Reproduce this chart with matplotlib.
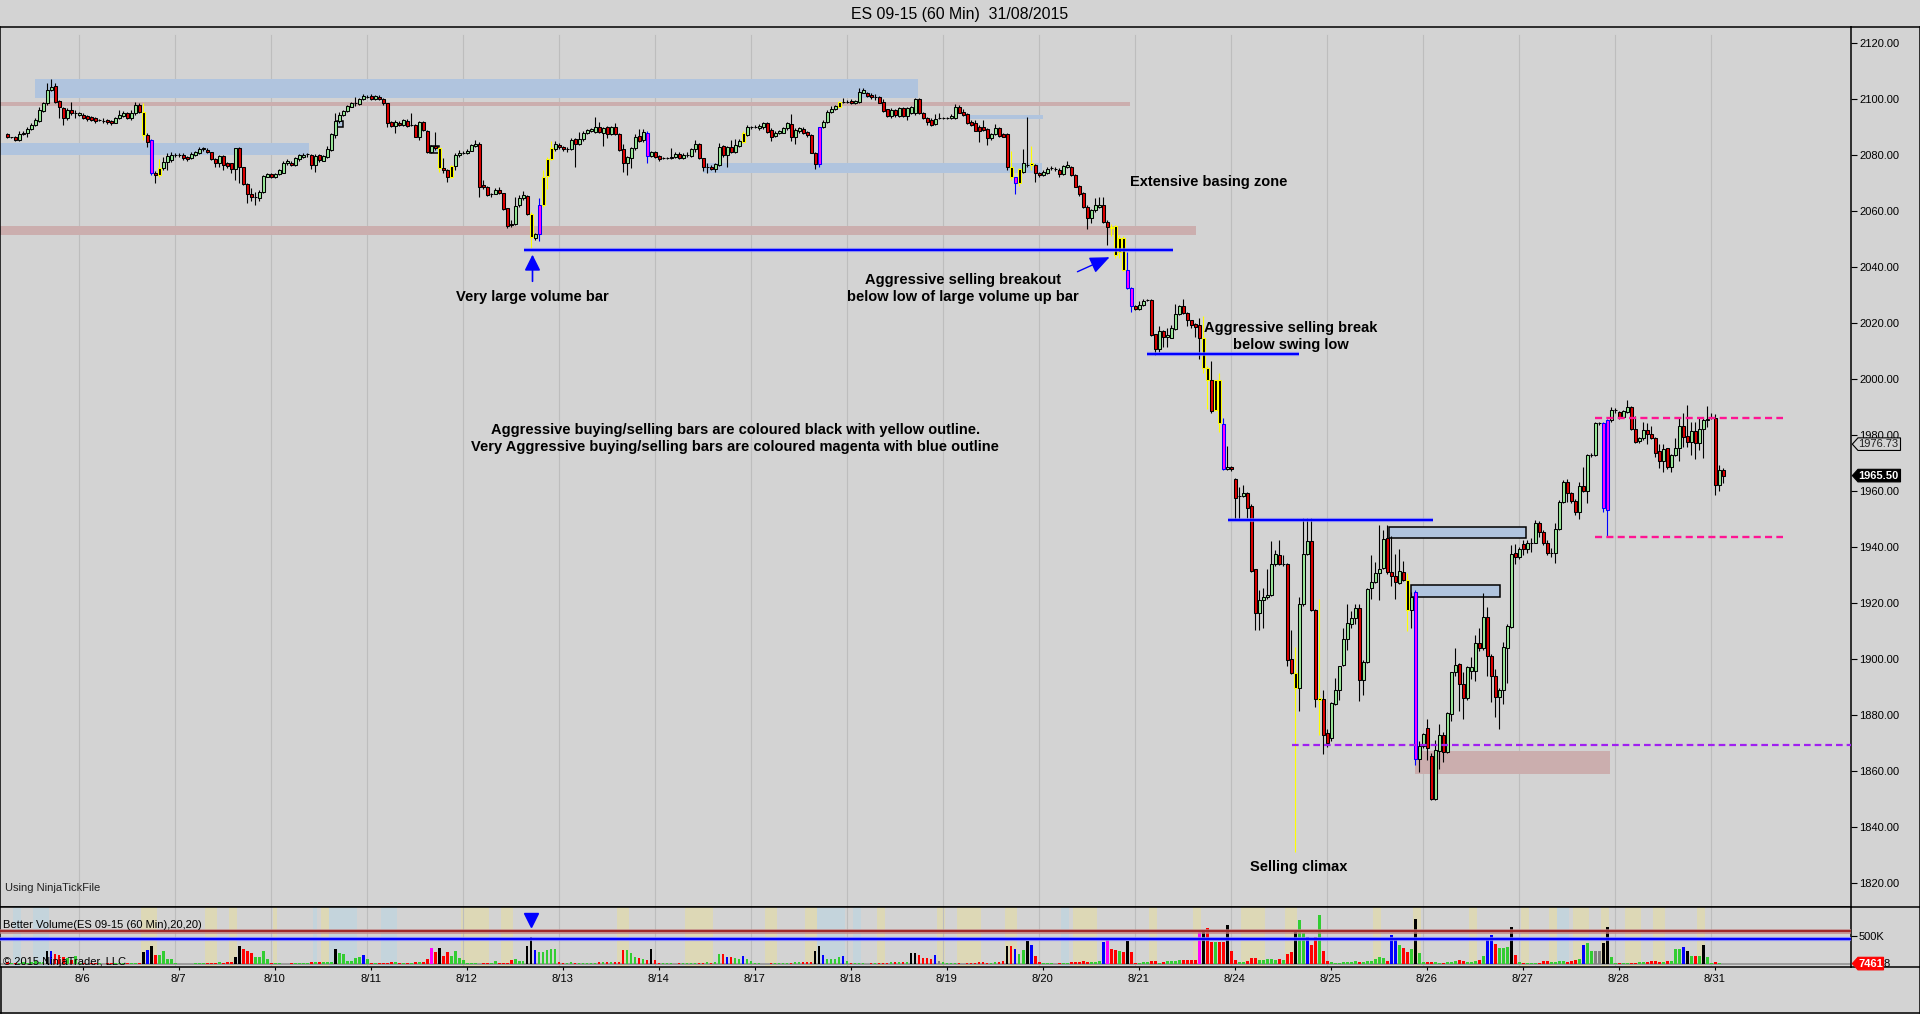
import matplotlib
matplotlib.use("Agg")
import matplotlib.pyplot as plt
import matplotlib.transforms as mtransforms
from matplotlib.lines import Line2D
from matplotlib.patches import Rectangle, Polygon

plt.rcParams['font.family'] = ['Liberation Sans', 'DejaVu Sans']

# ---------------- data (60 min bars, ES 09-15) ----------------
opens = [
    2087.4, 2086.3, 2086.5, 2085.4, 2087.4, 2088.0, 2089.2, 2090.7, 2092.3, 2095.8,
    2098.7, 2103.2, 2104.6, 2099.4, 2096.7, 2093.1, 2096.1, 2094.9, 2094.3, 2094.3,
    2093.9, 2093.4, 2093.1, 2092.5, 2092.3, 2092.5, 2092.3, 2091.6, 2093.1, 2094.0,
    2094.9, 2093.1, 2094.9, 2097.9, 2095.5, 2087.2, 2085.4, 2073.7, 2072.8, 2075.2,
    2077.6, 2078.2, 2080.0, 2080.0, 2080.0, 2079.2, 2079.0, 2079.9, 2080.6, 2082.0,
    2081.9, 2080.9, 2078.5, 2077.3, 2079.6, 2077.0, 2077.0, 2075.1, 2082.4, 2075.6,
    2069.7, 2066.1, 2065.1, 2064.5, 2066.9, 2072.3, 2073.1, 2072.0, 2073.2, 2073.7,
    2077.0, 2077.3, 2076.5, 2078.5, 2079.4, 2080.2, 2080.0, 2076.5, 2080.0, 2078.0,
    2079.4, 2081.8, 2087.2, 2092.1, 2094.2, 2095.8, 2097.3, 2098.5, 2098.2, 2099.9,
    2100.8, 2101.1, 2099.9, 2100.8, 2099.9, 2098.5, 2091.9, 2090.4, 2091.6, 2090.7,
    2092.3, 2090.7, 2090.7, 2086.6, 2091.9, 2088.7, 2081.2, 2083.2, 2082.4, 2075.2,
    2074.7, 2072.0, 2076.1, 2080.0, 2080.8, 2080.6, 2081.6, 2083.3, 2084.0, 2069.3,
    2068.7, 2065.9, 2066.1, 2067.5, 2066.3, 2060.9, 2055.4, 2055.4, 2062.2, 2064.6,
    2065.4, 2059.0, 2050.3, 2051.8, 2062.2, 2072.5, 2078.5, 2082.0, 2083.6, 2082.8,
    2082.0, 2082.0, 2085.6, 2084.0, 2085.6, 2088.0, 2088.6, 2088.2, 2090.1, 2088.0,
    2089.9, 2087.5, 2089.9, 2087.5, 2082.0, 2077.0, 2078.8, 2082.4, 2086.8, 2085.4,
    2088.0, 2079.7, 2081.2, 2079.7, 2078.8, 2078.8, 2078.8, 2079.2, 2080.4, 2078.8,
    2080.0, 2079.7, 2082.0, 2083.9, 2078.8, 2075.8, 2075.8, 2074.9, 2076.5, 2083.2,
    2080.0, 2082.7, 2081.2, 2083.3, 2084.8, 2087.2, 2089.9, 2089.9, 2089.5, 2090.1,
    2091.3, 2088.9, 2086.8, 2087.8, 2088.0, 2089.5, 2091.1, 2086.6, 2088.4, 2089.2,
    2088.3, 2087.2, 2080.8, 2076.8, 2089.9, 2091.9, 2095.5, 2096.3, 2097.3, 2099.0,
    2099.0, 2099.4, 2098.5, 2099.0, 2102.3, 2102.3, 2101.4, 2100.8, 2100.8, 2099.0,
    2096.3, 2093.9, 2096.1, 2093.9, 2096.7, 2093.9, 2095.1, 2094.9, 2099.9, 2095.1,
    2093.1, 2092.5, 2091.1, 2093.1, 2093.1, 2093.1, 2093.1, 2093.1, 2097.3, 2095.5,
    2094.7, 2091.9, 2091.6, 2090.1, 2090.1, 2089.2, 2086.0, 2087.5, 2089.5, 2087.5,
    2087.5, 2075.8, 2072.0, 2069.9, 2074.1, 2076.4, 2076.4, 2076.4, 2073.7, 2072.9,
    2073.7, 2075.3, 2074.9, 2074.7, 2073.2, 2075.8, 2075.8, 2072.9, 2069.0, 2066.6,
    2061.6, 2057.4, 2060.4, 2061.3, 2062.2, 2056.2, 2054.4, 2054.7, 2045.5, 2050.3,
    2039.0, 2032.4, 2026.1, 2024.9, 2026.5, 2028.2, 2028.2, 2015.9, 2010.8, 2017.2,
    2015.1, 2014.7, 2017.9, 2023.1, 2026.1, 2023.4, 2020.9, 2019.6, 2019.4, 2014.7,
    2004.0, 1999.5, 1988.9, 1999.5, 1983.9, 1967.7, 1968.4, 1964.3, 1958.1, 1958.1,
    1959.4, 1954.8, 1932.1, 1916.3, 1921.0, 1922.0, 1922.8, 1933.9, 1937.3, 1933.9,
    1933.9, 1900.1, 1894.9, 1889.6, 1919.8, 1937.6, 1942.3, 1917.5, 1885.3, 1885.6,
    1873.6, 1871.8, 1883.8, 1889.0, 1897.9, 1907.2, 1912.6, 1914.8, 1918.3, 1892.5,
    1898.9, 1925.3, 1927.4, 1930.6, 1932.6, 1943.1, 1931.1, 1929.8, 1927.1, 1931.1,
    1928.1, 1917.5, 1924.1, 1864.2, 1869.1, 1875.2, 1865.4, 1849.9, 1867.1, 1872.8,
    1866.9, 1880.4, 1895.2, 1898.2, 1891.2, 1885.9, 1895.8, 1895.8, 1905.6, 1903.8,
    1915.1, 1901.1, 1893.9, 1886.6, 1888.8, 1904.0, 1911.4, 1937.7, 1936.3, 1941.1,
    1939.2, 1941.6, 1941.6, 1948.5, 1945.5, 1941.6, 1938.0, 1937.7, 1946.3, 1956.2,
    1963.3, 1959.4, 1956.6, 1952.6, 1961.8, 1960.1, 1972.9, 1972.9, 1984.2, 1984.4,
    1953.2, 1985.4, 1988.9, 1988.3, 1986.3, 1988.3, 1989.9, 1982.0, 1977.9, 1978.8,
    1981.8, 1980.4, 1978.8, 1974.4, 1970.8, 1975.2, 1968.5, 1972.9, 1975.2, 1983.2,
    1979.6, 1977.6, 1981.5, 1977.0, 1982.0, 1985.4, 1985.9, 1985.9, 1962.2, 1967.5,
]
highs = [
    2087.8, 2086.6, 2086.8, 2088.4, 2088.6, 2089.9, 2091.3, 2093.1, 2097.3, 2099.1,
    2105.6, 2107.0, 2105.6, 2099.6, 2097.0, 2096.7, 2098.8, 2096.1, 2095.5, 2094.9,
    2094.4, 2093.9, 2093.4, 2093.0, 2093.1, 2092.7, 2092.5, 2093.7, 2096.1, 2095.8,
    2095.5, 2096.1, 2099.1, 2098.7, 2098.5, 2087.8, 2085.6, 2074.3, 2078.5, 2079.4,
    2080.6, 2081.0, 2080.8, 2080.6, 2080.6, 2079.6, 2081.0, 2081.6, 2082.9, 2083.0,
    2082.4, 2081.2, 2079.0, 2080.0, 2080.0, 2077.5, 2077.3, 2082.5, 2082.8, 2075.6,
    2070.0, 2068.1, 2066.9, 2067.5, 2072.9, 2073.7, 2073.5, 2073.7, 2075.0, 2078.0,
    2078.5, 2077.8, 2079.2, 2080.4, 2080.6, 2080.8, 2080.4, 2080.4, 2080.4, 2080.0,
    2083.2, 2087.8, 2095.1, 2095.5, 2096.2, 2098.0, 2098.9, 2100.8, 2100.5, 2101.7,
    2101.5, 2101.8, 2101.5, 2101.3, 2100.2, 2098.7, 2092.3, 2092.5, 2092.0, 2093.0,
    2092.8, 2095.1, 2091.0, 2092.3, 2092.3, 2089.0, 2083.6, 2088.3, 2083.0, 2078.8,
    2074.9, 2076.4, 2080.8, 2081.8, 2081.4, 2082.0, 2084.0, 2085.4, 2084.8, 2070.9,
    2069.0, 2066.3, 2068.1, 2068.5, 2066.6, 2061.0, 2056.8, 2065.1, 2065.7, 2067.3,
    2065.7, 2059.5, 2052.0, 2064.5, 2074.7, 2079.4, 2085.1, 2085.1, 2084.2, 2083.2,
    2083.0, 2086.0, 2086.0, 2088.3, 2088.7, 2089.4, 2089.8, 2093.5, 2091.9, 2089.9,
    2090.3, 2090.3, 2091.6, 2087.8, 2084.0, 2079.7, 2083.0, 2087.5, 2089.2, 2089.2,
    2088.4, 2081.6, 2081.4, 2080.0, 2079.2, 2079.4, 2082.4, 2080.9, 2080.9, 2080.6,
    2080.9, 2082.4, 2085.4, 2084.2, 2079.0, 2077.0, 2076.4, 2077.0, 2084.2, 2083.6,
    2083.2, 2085.4, 2085.6, 2085.6, 2088.4, 2090.7, 2090.3, 2090.7, 2090.9, 2091.9,
    2091.9, 2089.5, 2088.4, 2089.0, 2090.1, 2091.9, 2094.7, 2089.5, 2089.9, 2089.9,
    2088.7, 2087.5, 2081.0, 2090.1, 2092.5, 2096.1, 2097.5, 2098.0, 2099.4, 2100.2,
    2099.5, 2099.9, 2099.8, 2103.8, 2103.8, 2102.6, 2102.0, 2101.8, 2101.1, 2099.9,
    2096.6, 2096.7, 2096.3, 2097.0, 2097.0, 2097.3, 2097.4, 2100.2, 2100.2, 2095.4,
    2093.5, 2093.1, 2094.7, 2094.9, 2093.7, 2093.5, 2094.7, 2098.2, 2097.9, 2096.3,
    2095.0, 2092.5, 2092.5, 2090.7, 2092.5, 2089.5, 2088.0, 2091.1, 2090.1, 2088.0,
    2088.0, 2081.6, 2072.3, 2075.3, 2082.0, 2093.7, 2083.2, 2076.8, 2074.1, 2074.5,
    2075.8, 2075.9, 2075.8, 2075.3, 2076.4, 2078.0, 2076.1, 2073.2, 2069.3, 2066.9,
    2062.2, 2060.6, 2064.5, 2065.1, 2065.1, 2056.8, 2055.4, 2055.0, 2051.5, 2050.9,
    2045.5, 2032.8, 2026.5, 2027.7, 2028.6, 2028.6, 2028.6, 2016.0, 2019.1, 2017.5,
    2018.1, 2019.4, 2026.7, 2026.5, 2028.6, 2024.0, 2021.2, 2020.0, 2021.8, 2022.4,
    2004.6, 2006.5, 1999.7, 2002.2, 1986.2, 1976.1, 1969.0, 1964.6, 1961.6, 1962.2,
    1959.7, 1955.4, 1932.3, 1924.7, 1925.3, 1932.1, 1942.1, 1938.8, 1942.5, 1937.0,
    1934.3, 1910.5, 1904.4, 1922.2, 1950.5, 1950.5, 1950.5, 1917.9, 1921.6, 1889.0,
    1874.9, 1884.7, 1893.3, 1897.6, 1911.1, 1919.8, 1917.3, 1919.8, 1919.8, 1899.5,
    1925.3, 1937.0, 1934.5, 1948.0, 1946.2, 1947.8, 1944.1, 1937.6, 1939.4, 1935.1,
    1930.6, 1924.1, 1924.7, 1870.6, 1873.6, 1878.6, 1866.3, 1871.2, 1876.7, 1874.0,
    1881.0, 1895.4, 1903.8, 1898.6, 1895.2, 1897.6, 1900.7, 1908.7, 1911.1, 1923.4,
    1918.5, 1901.9, 1896.4, 1889.6, 1906.2, 1912.4, 1940.7, 1941.0, 1940.1, 1942.5,
    1942.5, 1943.2, 1949.7, 1949.3, 1945.9, 1942.5, 1939.5, 1948.5, 1956.8, 1963.9,
    1964.2, 1959.8, 1957.0, 1963.3, 1968.7, 1973.2, 1973.7, 1984.8, 1984.8, 1984.8,
    1985.6, 1989.9, 1989.5, 1988.7, 1988.9, 1992.5, 1990.4, 1986.8, 1979.4, 1984.8,
    1984.2, 1983.2, 1979.2, 1976.8, 1976.8, 1975.2, 1973.2, 1978.8, 1986.5, 1988.0,
    1990.7, 1984.8, 1984.8, 1986.5, 1986.3, 1990.4, 1987.7, 1987.4, 1969.3, 1968.1,
]
lows = [
    2086.0, 2085.9, 2085.1, 2085.1, 2087.0, 2086.6, 2088.9, 2090.4, 2091.9, 2095.5,
    2097.9, 2103.0, 2098.5, 2093.1, 2090.7, 2092.5, 2094.3, 2093.1, 2093.9, 2092.7,
    2092.3, 2092.1, 2091.6, 2092.0, 2091.6, 2091.1, 2090.8, 2091.3, 2092.9, 2093.7,
    2092.7, 2092.5, 2094.3, 2095.1, 2085.4, 2083.0, 2072.9, 2069.9, 2072.0, 2074.7,
    2074.7, 2077.5, 2079.4, 2079.2, 2078.3, 2078.0, 2078.5, 2079.5, 2080.2, 2081.6,
    2080.6, 2078.2, 2075.6, 2075.8, 2074.7, 2075.4, 2073.7, 2071.1, 2069.9, 2069.4,
    2062.8, 2063.4, 2062.2, 2063.4, 2066.6, 2072.0, 2071.8, 2071.7, 2072.8, 2073.5,
    2076.6, 2076.0, 2076.2, 2078.0, 2078.8, 2079.2, 2074.9, 2074.1, 2077.6, 2077.7,
    2079.0, 2081.6, 2086.0, 2091.3, 2093.8, 2095.4, 2097.0, 2097.5, 2097.8, 2099.6,
    2100.2, 2099.6, 2099.6, 2099.5, 2098.0, 2089.9, 2090.0, 2088.0, 2090.2, 2090.2,
    2090.0, 2090.2, 2086.3, 2085.4, 2088.7, 2080.8, 2080.6, 2081.8, 2074.1, 2073.5,
    2070.5, 2071.7, 2074.7, 2079.2, 2080.2, 2080.2, 2081.3, 2082.8, 2065.1, 2067.7,
    2065.4, 2064.9, 2065.9, 2066.1, 2060.4, 2053.8, 2054.4, 2055.0, 2061.6, 2064.0,
    2058.6, 2046.7, 2049.7, 2049.4, 2061.6, 2067.8, 2078.2, 2081.6, 2082.0, 2081.6,
    2081.2, 2081.7, 2075.8, 2083.6, 2085.1, 2087.6, 2088.2, 2088.0, 2087.8, 2083.2,
    2086.0, 2087.0, 2087.2, 2081.6, 2074.1, 2072.9, 2075.3, 2081.8, 2084.8, 2084.8,
    2077.3, 2079.4, 2079.0, 2078.0, 2078.4, 2078.4, 2078.4, 2078.9, 2078.5, 2078.5,
    2079.2, 2079.2, 2081.2, 2078.5, 2074.4, 2073.7, 2074.7, 2074.1, 2076.2, 2079.2,
    2075.8, 2080.6, 2080.8, 2082.9, 2084.4, 2086.8, 2089.4, 2089.5, 2089.1, 2089.2,
    2088.0, 2085.1, 2086.6, 2087.4, 2087.8, 2088.9, 2085.1, 2084.0, 2088.0, 2087.5,
    2086.6, 2080.6, 2074.9, 2075.6, 2089.5, 2091.6, 2094.9, 2096.0, 2097.0, 2098.6,
    2098.6, 2098.2, 2098.2, 2098.7, 2102.0, 2100.8, 2099.9, 2099.6, 2098.5, 2095.5,
    2093.5, 2093.1, 2093.7, 2093.5, 2093.5, 2092.5, 2094.6, 2094.3, 2094.7, 2092.7,
    2090.7, 2090.4, 2090.7, 2092.7, 2092.7, 2092.7, 2092.7, 2092.7, 2094.9, 2093.9,
    2091.1, 2090.4, 2088.4, 2084.8, 2088.4, 2083.6, 2085.4, 2087.2, 2086.6, 2086.3,
    2074.7, 2071.1, 2066.1, 2069.0, 2073.7, 2075.8, 2074.7, 2070.5, 2072.3, 2072.5,
    2073.2, 2074.7, 2074.4, 2072.3, 2072.9, 2075.3, 2072.5, 2068.5, 2065.4, 2061.0,
    2053.5, 2055.6, 2059.8, 2061.0, 2055.6, 2047.9, 2050.9, 2043.1, 2043.1, 2038.4,
    2032.1, 2024.1, 2024.7, 2024.6, 2026.1, 2027.7, 2015.4, 2008.6, 2009.8, 2011.4,
    2011.4, 2014.5, 2017.5, 2022.8, 2023.1, 2018.8, 2018.1, 2015.1, 2007.1, 2002.2,
    1989.2, 1988.0, 1988.6, 1981.2, 1967.5, 1967.5, 1967.1, 1949.9, 1949.9, 1957.9,
    1950.5, 1931.1, 1910.5, 1910.5, 1911.1, 1921.6, 1922.5, 1933.3, 1933.5, 1933.3,
    1897.6, 1894.5, 1831.0, 1881.6, 1919.1, 1937.0, 1917.0, 1882.9, 1873.0, 1866.2,
    1868.7, 1870.6, 1883.5, 1885.3, 1897.6, 1903.2, 1911.1, 1912.4, 1885.1, 1887.2,
    1898.6, 1921.6, 1927.1, 1921.0, 1932.1, 1930.2, 1925.9, 1921.6, 1926.9, 1927.8,
    1909.9, 1911.1, 1862.0, 1859.5, 1868.1, 1863.8, 1849.7, 1849.7, 1860.7, 1863.2,
    1866.6, 1877.9, 1893.9, 1881.6, 1878.6, 1885.3, 1892.7, 1892.1, 1902.8, 1903.2,
    1893.9, 1884.7, 1879.2, 1874.9, 1884.1, 1891.5, 1911.1, 1934.0, 1935.8, 1937.0,
    1938.0, 1938.2, 1941.3, 1943.7, 1940.7, 1937.2, 1936.6, 1934.2, 1945.9, 1955.8,
    1956.2, 1955.8, 1951.4, 1949.9, 1959.8, 1955.8, 1972.3, 1972.5, 1983.6, 1952.6,
    1943.7, 1984.8, 1987.7, 1985.6, 1986.0, 1987.7, 1981.8, 1977.3, 1977.3, 1978.2,
    1976.8, 1978.5, 1972.0, 1968.1, 1966.9, 1967.7, 1966.9, 1972.5, 1970.8, 1975.8,
    1975.8, 1972.9, 1971.3, 1974.6, 1971.7, 1983.0, 1985.6, 1958.6, 1960.1, 1962.8,
]
closes = [
    2086.3, 2086.3, 2085.4, 2087.4, 2088.0, 2089.2, 2090.7, 2092.5, 2096.1, 2098.5,
    2103.2, 2104.4, 2099.1, 2097.0, 2093.1, 2096.1, 2094.9, 2094.9, 2094.9, 2093.1,
    2092.7, 2092.5, 2092.1, 2092.5, 2092.3, 2091.9, 2091.3, 2093.1, 2094.3, 2095.1,
    2093.1, 2094.9, 2097.9, 2095.5, 2087.2, 2084.8, 2073.7, 2072.8, 2075.5, 2077.6,
    2079.7, 2080.0, 2080.0, 2080.0, 2078.8, 2078.5, 2080.4, 2080.9, 2082.3, 2082.5,
    2081.0, 2078.7, 2077.3, 2079.6, 2076.3, 2076.1, 2075.1, 2082.4, 2075.6, 2069.7,
    2066.1, 2065.1, 2065.1, 2066.9, 2072.5, 2073.1, 2072.3, 2073.2, 2074.6, 2077.0,
    2078.0, 2076.5, 2078.8, 2080.0, 2080.0, 2080.2, 2076.5, 2079.6, 2078.2, 2079.6,
    2082.0, 2087.5, 2092.3, 2094.3, 2095.8, 2097.5, 2098.5, 2098.5, 2099.9, 2101.1,
    2100.8, 2099.9, 2101.1, 2099.9, 2098.5, 2091.6, 2090.4, 2091.8, 2090.7, 2092.5,
    2090.4, 2090.7, 2086.6, 2091.9, 2088.9, 2081.2, 2083.2, 2082.4, 2075.2, 2074.7,
    2072.0, 2076.1, 2080.0, 2080.8, 2080.8, 2081.6, 2083.6, 2084.0, 2068.7, 2068.7,
    2065.7, 2065.9, 2067.5, 2066.6, 2060.6, 2054.7, 2055.0, 2061.8, 2064.6, 2065.7,
    2059.0, 2050.8, 2051.8, 2062.2, 2072.3, 2078.5, 2082.4, 2083.9, 2082.8, 2082.0,
    2082.0, 2085.4, 2084.0, 2085.6, 2088.0, 2089.0, 2089.4, 2089.9, 2088.2, 2089.5,
    2087.5, 2089.9, 2087.5, 2081.8, 2077.0, 2079.2, 2082.4, 2086.6, 2085.1, 2088.3,
    2079.7, 2081.2, 2079.4, 2078.5, 2078.8, 2078.8, 2079.2, 2080.4, 2078.8, 2080.0,
    2080.0, 2082.0, 2083.9, 2078.8, 2075.6, 2075.8, 2074.9, 2076.7, 2083.0, 2080.0,
    2082.7, 2081.2, 2083.6, 2085.1, 2087.8, 2089.9, 2089.9, 2089.9, 2090.4, 2091.3,
    2088.3, 2086.6, 2088.0, 2088.6, 2089.5, 2091.6, 2086.6, 2088.9, 2089.5, 2087.8,
    2087.2, 2080.8, 2076.8, 2089.9, 2091.9, 2095.5, 2096.3, 2097.5, 2099.0, 2099.0,
    2099.0, 2098.5, 2099.4, 2102.6, 2103.2, 2101.1, 2100.6, 2100.8, 2098.7, 2095.8,
    2093.9, 2096.1, 2094.3, 2096.7, 2093.9, 2096.7, 2097.0, 2099.9, 2095.1, 2093.1,
    2091.9, 2090.7, 2092.7, 2093.1, 2093.1, 2093.1, 2093.9, 2097.0, 2095.1, 2094.3,
    2091.3, 2090.7, 2088.7, 2088.4, 2088.9, 2086.0, 2087.5, 2089.5, 2086.8, 2086.6,
    2075.8, 2072.0, 2070.1, 2074.9, 2077.0, 2076.4, 2077.0, 2073.5, 2072.8, 2074.1,
    2074.9, 2075.3, 2074.9, 2073.2, 2076.1, 2076.4, 2072.9, 2068.7, 2066.1, 2061.3,
    2057.4, 2060.4, 2062.2, 2062.2, 2055.9, 2054.4, 2053.8, 2044.3, 2050.3, 2039.0,
    2032.4, 2025.9, 2024.9, 2026.5, 2027.7, 2028.2, 2015.7, 2010.8, 2017.2, 2015.1,
    2015.7, 2018.1, 2023.1, 2026.1, 2023.4, 2020.9, 2019.4, 2018.4, 2014.7, 2004.0,
    1999.5, 1988.6, 1999.5, 1984.3, 1967.7, 1968.7, 1967.7, 1957.6, 1958.1, 1959.4,
    1954.0, 1931.4, 1916.3, 1921.2, 1922.2, 1922.8, 1933.9, 1937.6, 1933.9, 1933.9,
    1899.5, 1894.9, 1889.6, 1919.8, 1937.6, 1942.3, 1917.5, 1885.6, 1886.0, 1873.0,
    1870.0, 1884.3, 1889.0, 1897.4, 1907.2, 1912.9, 1914.8, 1918.3, 1892.5, 1898.9,
    1924.9, 1927.4, 1930.6, 1932.3, 1942.9, 1931.1, 1929.8, 1927.4, 1931.4, 1928.1,
    1917.5, 1922.2, 1864.2, 1869.1, 1873.3, 1868.1, 1849.9, 1867.5, 1872.8, 1866.9,
    1880.6, 1895.2, 1897.9, 1890.9, 1885.9, 1897.0, 1897.0, 1905.6, 1903.8, 1915.1,
    1901.1, 1893.9, 1886.6, 1889.0, 1904.4, 1911.8, 1937.6, 1936.3, 1939.2, 1939.2,
    1941.6, 1941.6, 1948.5, 1945.5, 1941.6, 1938.0, 1938.0, 1946.3, 1956.2, 1963.3,
    1959.4, 1956.6, 1952.6, 1961.8, 1960.1, 1972.9, 1972.9, 1984.4, 1984.2, 1953.8,
    1985.4, 1988.9, 1988.9, 1986.3, 1988.7, 1989.9, 1982.0, 1977.6, 1978.8, 1981.8,
    1980.4, 1978.8, 1973.7, 1970.8, 1974.9, 1968.5, 1972.9, 1975.2, 1983.2, 1979.2,
    1977.6, 1981.5, 1977.0, 1982.0, 1985.4, 1985.6, 1985.9, 1962.2, 1967.5, 1965.5,
]
# volume in thousands of contracts
volumes = [
    35, 20, 15, 25, 30, 20, 40, 45, 30, 42,
    232, 238, 178, 160, 125, 100, 80, 140,
    15, 10, 8, 10, 12, 10, 8, 12, 15, 20, 18, 15, 12, 14, 16, 20,
    220, 250, 321, 160, 155, 232, 89, 83,
    10, 8, 8, 6, 8, 10, 12, 15, 20, 24, 24, 28, 24, 30, 35, 125,
    321, 268, 238, 202, 131, 119, 232, 89,
    12, 24, 10, 8, 8, 10, 12, 10, 12, 15, 36, 40, 36, 30, 35, 40,
    268, 202, 178, 54, 54, 101, 119, 160,
    83, 20, 12, 10, 10, 12, 42, 30, 24, 20, 20, 24, 36, 42, 42, 83,
    280, 220, 280, 143, 208, 149, 232, 107,
    71, 15, 12, 10, 8, 10, 12, 15, 54, 24, 20, 18, 71, 83, 48, 60,
    321, 476, 250, 214, 214, 250, 274, 262,
    30, 20, 15, 42, 12, 10, 10, 12, 20, 24, 36, 30, 30, 36, 30, 36,
    250, 250, 202, 131, 113, 83, 71, 268,
    71, 20, 15, 12, 10, 8, 10, 12, 15, 18, 24, 20, 24, 30, 24, 30,
    178, 178, 131, 131, 101, 95, 149, 83,
    54, 15, 10, 8, 8, 10, 12, 12, 15, 20, 24, 42, 42, 36, 30, 42,
    238, 321, 160, 95, 95, 83, 131, 143,
    54, 20, 24, 12, 10, 8, 10, 12, 15, 18, 24, 30, 36, 36, 30, 36,
    202, 202, 160, 101, 101, 83, 160, 54,
    30, 20, 15, 10, 12, 8, 24, 15, 12, 36, 42, 24, 20, 30, 42, 60,
    327, 327, 262, 178, 250, 411, 339, 143,
    40, 20, 12, 10, 8, 10, 15, 20, 36, 42, 42, 48, 42, 36, 42, 60,
    399, 428, 268, 250, 238, 220, 411, 220,
    24, 20, 30, 36, 48, 60, 24, 36, 48, 60, 54, 71, 71, 71, 71, 71,
    577, 607, 637, 387, 399, 399, 387, 696,
    238, 71, 30, 30, 60, 101, 101, 70, 70, 83, 83, 70, 83, 70, 178, 220,
    577, 785, 559, 488, 339, 476, 875, 238,
    48, 30, 24, 24, 36, 30, 42, 48, 36, 42, 48, 60, 83, 119, 101, 60,
    518, 440, 339, 280, 220, 262, 797, 202,
    30, 36, 30, 30, 24, 24, 30, 36, 60, 71, 48, 42, 36, 60, 71, 143,
    440, 518, 357, 280, 280, 309, 654, 160,
    30, 24, 15, 12, 20, 24, 48, 54, 42, 36, 54, 48, 36, 60, 71, 83,
    339, 369, 238, 238, 238, 381, 654, 119,
    24, 20, 24, 15, 12, 24, 30, 36, 42, 60, 48, 42, 36, 54, 60, 262,
    262, 297, 238, 143, 143, 143, 339, 119,
    20, 42, 24, 7.461,
]
aggressive_bars = [34, 38, 108, 111, 131, 134, 135, 136, 184, 208, 251, 253, 256,
                   276, 277, 278, 279, 299, 300, 302, 303, 322, 328, 350]
very_aggressive_bars = [36, 133, 160, 203, 252, 280, 281, 304, 352, 399, 400]
vol_black = [10, 34, 36, 57, 58, 82, 108, 130, 131, 161, 202, 203, 226, 227, 250, 255,
             280, 299, 305, 322, 352, 376, 399, 400, 420, 424]
vol_blue = [11, 35, 89, 132, 180, 184, 204, 209, 232, 252, 256, 274, 325, 346, 347,
            370, 371, 394, 419]
vol_magenta = [106, 275, 298]
vol_gray = [233, 397, 398]
# background state shading of the volume panel (first bar, last bar, kind)
vol_shading = [
    (2, 3, 'b'), (7, 10, 'b'), (34, 37, 'y'), (50, 52, 'y'), (56, 57, 'y'), (67, 67, 'y'),
    (77, 77, 'b'), (79, 80, 'y'), (81, 87, 'b'), (94, 97, 'b'), (114, 120, 'y'),
    (124, 126, 'y'), (153, 155, 'y'), (170, 176, 'y'), (190, 192, 'y'), (200, 202, 'y'),
    (203, 209, 'b'), (212, 213, 'b'), (218, 219, 'y'), (233, 234, 'y'), (238, 243, 'y'),
    (250, 252, 'y'), (264, 265, 'b'), (267, 272, 'y'), (286, 287, 'y'), (297, 298, 'y'),
    (309, 314, 'y'), (320, 322, 'y'), (342, 343, 'y'), (352, 353, 'y'), (366, 367, 'y'),
    (379, 380, 'y'), (386, 387, 'y'), (388, 390, 'b'), (392, 395, 'y'), (399, 400, 'y'),
    (405, 408, 'y'), (412, 414, 'y'), (423, 424, 'y'),
]
vol_level_red = 590
vol_level_blue = 441
vol_marker_bar = 131

date_labels = ['8/6', '8/7', '8/10', '8/11', '8/12', '8/13', '8/14', '8/17', '8/18',
               '8/19', '8/20', '8/21', '8/24', '8/25', '8/26', '8/27', '8/28', '8/31']
date_bars = [18, 42, 66, 90, 114, 138, 162, 186, 210, 234, 258, 282, 306, 330, 354,
             378, 402, 426]
price_ticks = [1820, 1840, 1860, 1880, 1900, 1920, 1940, 1960, 1980, 2000, 2020,
               2040, 2060, 2080, 2100, 2120]
indicator_value = 1976.73

# drawn zones: (first bar, last bar, low price, high price)
blue_zones = [(6.9, 227.7, 2100.5, 2107.1), (-1.8, 75.4, 2080.1, 2084.3),
              (173.9, 258.7, 2073.7, 2077.1), (239.4, 258.9, 2092.9, 2094.3)]
red_zones = [(-1.8, 280.7, 2097.6, 2098.9), (-1.8, 297.2, 2051.5, 2054.6),
             (351.9, 400.7, 1859.1, 1867.1)]
outlined_zones = [(345.4, 379.7, 1943.1, 1947.3), (350.9, 373.2, 1922.1, 1926.3),
                  (82.4, 83.8, 2089.9, 2092.1), (105.6, 107.8, 2080.6, 2083.2)]
blue_levels = [(2046.2, 129.2, 291.4), (2009.0, 284.9, 322.9), (1949.5, 305.1, 356.4)]
purple_levels = [(1869.2, 321.2, 461.0)]
pink_levels = [(1986.0, 396.9, 443.9), (1943.6, 396.9, 443.9)]

# ---------------- figure ----------------
W, H = 1920, 1014
BG = '#d3d3d3'
fig = plt.figure(figsize=(W / 100, H / 100), dpi=100)
fig.patch.set_facecolor(BG)


def fx(px):
    return px / W


def fy(py):
    return 1 - py / H


ax = fig.add_axes([0, fy(907), fx(1851), (907 - 27) / H])
axv = fig.add_axes([0, fy(967), fx(1851), (967 - 907) / H])
for a in (ax, axv):
    a.set_facecolor(BG)
    for s in a.spines.values():
        s.set_color('black')
        s.set_linewidth(1.1)

n = len(closes)
xs = list(range(n))
XMIN, XMAX = -1.825, 460.925
ax.set_xlim(XMIN, XMAX)
axv.set_xlim(XMIN, XMAX)
ax.set_ylim(1811.43, 2125.71)
axv.set_ylim(-53.6, 1017.9)

# grid
grid_top = (2122.86 - 1811.43) / (2125.71 - 1811.43)
for b in date_bars:
    ax.axvline(b, ymin=0, ymax=grid_top, color='#bdbdbd', lw=0.8, zorder=0.5)
    axv.axvline(b, color='#bdbdbd', lw=0.8, zorder=0.5)

# zones
for x0, x1, y0, y1 in blue_zones:
    ax.add_patch(Rectangle((x0, y0), x1 - x0, y1 - y0, facecolor='#b0c4de',
                           edgecolor='none', zorder=1))
for x0, x1, y0, y1 in red_zones:
    ax.add_patch(Rectangle((x0, y0), x1 - x0, y1 - y0, facecolor='#cbaeae',
                           edgecolor='none', zorder=1))
for x0, x1, y0, y1 in outlined_zones:
    ax.add_patch(Rectangle((x0, y0), x1 - x0, y1 - y0, facecolor='#b0c4de',
                           edgecolor='black', lw=1.1, zorder=2))

# candles
aggr = set(aggressive_bars)
vaggr = set(very_aggressive_bars)
face, edge, wick = [], [], []
for i in range(n):
    if i in vaggr:
        face.append('#ff00ff'); edge.append('#0000ff'); wick.append('#0000ff')
    elif i in aggr:
        face.append('black'); edge.append('#ffff00'); wick.append('#ffff00')
    elif closes[i] >= opens[i]:
        face.append('#98e898'); edge.append('black'); wick.append('black')
    else:
        face.append('#dd0000'); edge.append('black'); wick.append('black')
ax.vlines(xs, lows, highs, colors=wick, linewidth=0.8, zorder=3)
ax.bar(xs, [c - o for o, c in zip(opens, closes)], bottom=opens, width=0.62,
       color=face, edgecolor=edge, linewidth=0.75, zorder=4)

# horizontal levels
for lvl, x0, x1 in blue_levels:
    ax.hlines(lvl, x0, x1, colors='#7878ff', lw=3.0, alpha=0.7, zorder=5)
    ax.hlines(lvl, x0, x1, colors='#0000ff', lw=1.5, zorder=5)
for lvl, x0, x1 in purple_levels:
    ax.hlines(lvl, x0, x1, colors='#a020f0', lw=1.6, linestyles=(0, (3, 1.8)), zorder=5)
for lvl, x0, x1 in pink_levels:
    ax.hlines(lvl, x0, x1, colors='#ff1493', lw=1.7, linestyles=(0, (3, 1.8)), zorder=5)

# annotations
tk = dict(ha='center', va='center', fontsize=10.5, fontweight='bold', color='black', zorder=6)
ax.text(131.2, 2029.3, 'Very large volume bar', **tk)
ax.annotate('', xy=(131.3, 2045.4), xytext=(131.3, 2033.9),
            arrowprops=dict(arrowstyle='-|>,head_length=0.6,head_width=0.3',
                            color='#0000ff', lw=1.2, mutation_scale=16), zorder=6)
ax.text(239.0, 2035.4, 'Aggressive selling breakout', **tk)
ax.text(239.0, 2029.3, 'below low of large volume up bar', **tk)
ax.annotate('', xy=(276.2, 2043.9), xytext=(266.9, 2037.9),
            arrowprops=dict(arrowstyle='-|>,head_length=0.75,head_width=0.32',
                            color='#0000ff', lw=1.0, mutation_scale=16), zorder=6)
ax.text(280.7, 2070.4, 'Extensive basing zone', ha='left', va='center', fontsize=10.5,
        fontweight='bold', color='black', zorder=6)
ax.text(320.9, 2018.2, 'Aggressive selling break', **tk)
ax.text(320.9, 2012.1, 'below swing low', **tk)
ax.text(182.0, 1981.8, 'Aggressive buying/selling bars are coloured black with yellow outline.', **tk)
ax.text(182.0, 1975.8, 'Very Aggressive buying/selling bars are coloured magenta with blue outline', **tk)
ax.text(322.9, 1825.7, 'Selling climax', **tk)
ax.text(5 / 1851, (907 - 888) / 880, 'Using NinjaTickFile', transform=ax.transAxes,
        ha='left', va='center', fontsize=8, color='#202020')

# price axis
ax.yaxis.tick_right()
ax.set_yticks(price_ticks)
ax.set_yticklabels([f'{t:.2f}' for t in price_ticks])
ax.tick_params(axis='y', direction='out', length=4.3, width=0.8, pad=1.5,
               labelsize=8, colors='black')
ax.tick_params(axis='x', bottom=False, labelbottom=False)

# volume panel
for s0, s1, kind in vol_shading:
    axv.axvspan(s0 - 0.5, s1 + 0.5, color='#ddd8b6' if kind == 'y' else '#c4d4dc',
                lw=0, zorder=0.3)
vcol = []
for i in range(n):
    if i in vol_black:
        vcol.append('black')
    elif i in vol_blue:
        vcol.append('#0000ff')
    elif i in vol_magenta:
        vcol.append('#ff00ff')
    elif i in vol_gray:
        vcol.append('#808080')
    elif closes[i] >= opens[i]:
        vcol.append('#32cd32')
    else:
        vcol.append('#ff0000')
axv.axhline(0, color='#9c9c9c', lw=1.4, zorder=1)
axv.bar(xs, volumes, width=0.6, color=vcol, lw=0, zorder=2)
axv.axhline(vol_level_red, color='#c08080', lw=3.4, alpha=0.8, zorder=3)
axv.axhline(vol_level_red, color='#a02828', lw=1.4, zorder=3)
axv.axhline(vol_level_blue, color='#7878ff', lw=3.0, alpha=0.8, zorder=3)
axv.axhline(vol_level_blue, color='#0000ff', lw=1.4, zorder=3)
axv.plot([vol_marker_bar], [777], marker='v', ms=10, color='#0000ff', zorder=4)
axv.text(3 / 1851, (967 - 925) / 60, 'Better Volume(ES 09-15 (60 Min),20,20)',
         transform=axv.transAxes, ha='left', va='center', fontsize=8, zorder=5)
axv.text(3 / 1851, (967 - 962) / 60, '\u00a9 2015 NinjaTrader, LLC',
         transform=axv.transAxes, ha='left', va='center', fontsize=8, zorder=5)
axv.yaxis.tick_right()
axv.set_yticks([500])
axv.set_yticklabels(['500K'])
axv.tick_params(axis='y', direction='out', length=4.3, width=0.8, pad=1.5, labelsize=8)
axv.set_xticks([b + 0.85 for b in date_bars])
axv.set_xticklabels(date_labels)
axv.tick_params(axis='x', direction='out', length=2.5, width=0.8, pad=2.5, labelsize=8)

# frame lines to the right edge
for py in (27, 907, 967):
    fig.add_artist(Line2D([fx(1851), 1], [fy(py), fy(py)], color='black', lw=1.1,
                          transform=fig.transFigure))
fig.add_artist(Line2D([0, 1], [fy(1013), fy(1013)], color='black', lw=1.1,
                      transform=fig.transFigure))
fig.add_artist(Line2D([fx(1919.5), fx(1919.5)], [fy(27), fy(1013)], color='black', lw=1.1,
                      transform=fig.transFigure))
fig.add_artist(Line2D([fx(0.5), fx(0.5)], [fy(967), fy(1013)], color='black', lw=1.1,
                      transform=fig.transFigure))

# title
fig.text(0.5, fy(14), 'ES 09-15 (60 Min)  31/08/2015', ha='center', va='center',
         fontsize=11.4, color='black')


# value flags on the right axis
def flag(axis, yval, label, face_c, edge_c, text_c, right=49.5, half=6.3, bold=False):
    x0, y0 = axis.transData.transform((XMAX, yval))
    pts = [(x0 + 1.3, y0), (x0 + 7.0, y0 + half), (x0 + right, y0 + half),
           (x0 + right, y0 - half), (x0 + 7.0, y0 - half)]
    fig.add_artist(Polygon(pts, closed=True, facecolor=face_c, edgecolor=edge_c, lw=0.8,
                           transform=mtransforms.IdentityTransform(), zorder=10))
    fig.text((x0 + 7.5) / W, y0 / H, label, ha='left', va='center', fontsize=8,
             color=text_c, fontweight='bold' if bold else 'normal', zorder=11)
    return x0, y0


flag(ax, indicator_value, f'{indicator_value:.2f}', BG, 'black', '#202020')
flag(ax, closes[-1], f'{closes[-1]:.2f}', 'black', 'black', 'white', bold=True)
vx, vy = flag(axv, volumes[-1], f'{volumes[-1] * 1000:.0f}', '#ff0000', '#ff0000', 'white',
              right=32.5, bold=True)
fig.text((vx + 33) / W, vy / H, '8', ha='left', va='center', fontsize=8, color='black')

fig.savefig('out.png', dpi=100, facecolor=BG)
print(len(opens), len(highs), len(lows), len(closes), len(volumes))
